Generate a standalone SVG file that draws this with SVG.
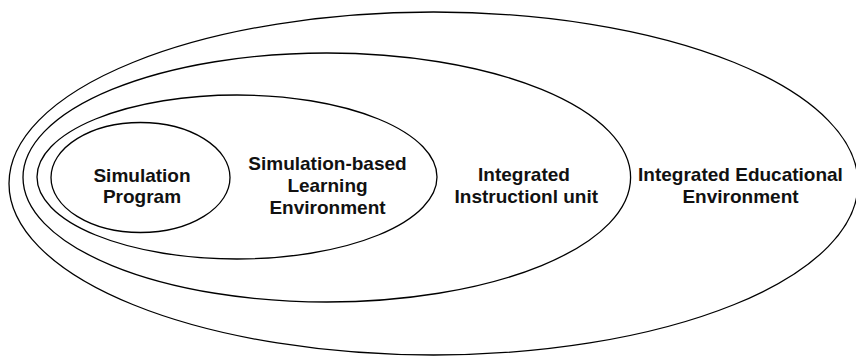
<svg xmlns="http://www.w3.org/2000/svg" width="856" height="356" viewBox="0 0 856 356">
<style>
.e{fill:none;stroke:#000;stroke-width:1.3}
.t{font-family:"Liberation Sans",Arial,Helvetica,sans-serif;font-weight:bold;font-size:19px;fill:#111;text-anchor:middle}
</style>
<rect width="856" height="356" fill="#fff"/>
<g id="env">
<ellipse class="e" cx="433.5" cy="183.5" rx="424.5" ry="171.5"/>
<text class="t" x="740.5" y="181.3">Integrated Educational</text>
<text class="t" x="740.5" y="203">Environment</text>
</g>
<g id="unit">
<ellipse class="e" cx="326.8" cy="177.5" rx="303.8" ry="124.5"/>
<text class="t" x="524" y="181.3">Integrated</text>
<text class="t" x="526.3" y="203">Instructionl unit</text>
</g>
<g id="sble">
<ellipse class="e" cx="237" cy="177" rx="200" ry="82"/>
<text class="t" x="327.5" y="170.3">Simulation-based</text>
<text class="t" x="327.5" y="192.3">Learning</text>
<text class="t" x="327.5" y="213.8">Environment</text>
</g>
<g id="program">
<ellipse class="e" cx="140.5" cy="177.5" rx="89.5" ry="55"/>
<text class="t" x="142" y="181.5">Simulation</text>
<text class="t" x="142" y="203">Program</text>
</g>
<g id="connectors"/>
</svg>
